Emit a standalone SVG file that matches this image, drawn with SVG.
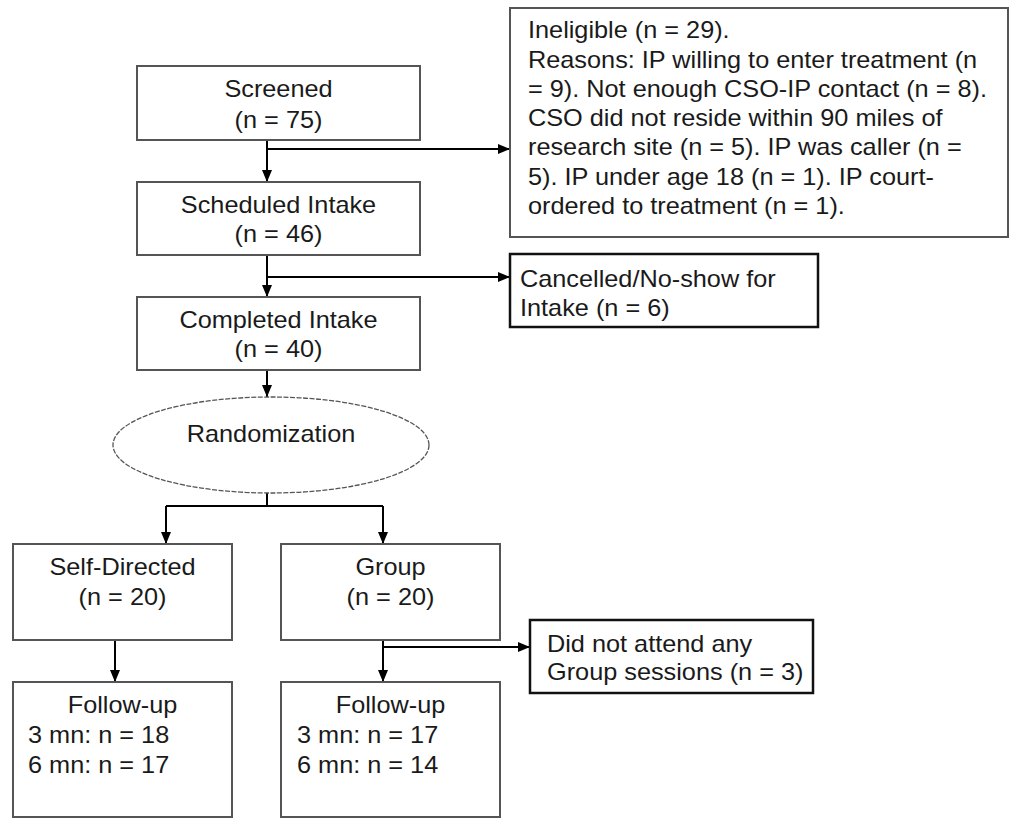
<svg xmlns="http://www.w3.org/2000/svg" width="1010" height="818" viewBox="0 0 1010 818">
<style>
.box{fill:#fff;stroke:#555;stroke-width:2}
.dark{fill:#fff;stroke:#111;stroke-width:2.5}
.ell{fill:#fff;stroke:#555;stroke-width:1.3;stroke-dasharray:5 1.5}
text{font-family:"Liberation Sans",Arial,sans-serif;font-size:23px;fill:#1a1a1a}
.c{text-anchor:middle}
.con{fill:none;stroke:#000;stroke-width:2}
</style>
<defs>
<marker id="ah" markerUnits="userSpaceOnUse" markerWidth="12" markerHeight="10" refX="12" refY="5" orient="auto">
<path d="M0,0 L12,5 L0,10 z" fill="#000"/>
</marker>
</defs>
<rect width="1010" height="818" fill="#fff"/>
<g id="connectors">
<path class="con" d="M267,140 V182" marker-end="url(#ah)"/>
<path class="con" d="M267,149 H510" marker-end="url(#ah)"/>
<path class="con" d="M267,255 V297" marker-end="url(#ah)"/>
<path class="con" d="M267,277 H510" marker-end="url(#ah)"/>
<path class="con" d="M267,370 V397" marker-end="url(#ah)"/>
<path class="con" d="M267,493 V506"/>
<path class="con" d="M166,506 H383"/>
<path class="con" d="M166,506 V544" marker-end="url(#ah)"/>
<path class="con" d="M383,506 V544" marker-end="url(#ah)"/>
<path class="con" d="M115,640 V682" marker-end="url(#ah)"/>
<path class="con" d="M383,640 V682" marker-end="url(#ah)"/>
<path class="con" d="M383,647 H530" marker-end="url(#ah)"/>
</g>
<g id="screened">
<rect class="box" x="137" y="66" width="283" height="74"/>
<text class="c" transform="translate(278.5,97) scale(1.1,1)">Screened</text>
<text class="c" transform="translate(278.5,128) scale(1.1,1)">(n = 75)</text>
</g>
<g id="scheduled">
<rect class="box" x="137" y="182" width="283" height="73"/>
<text class="c" transform="translate(278.5,213) scale(1.1,1)">Scheduled Intake</text>
<text class="c" transform="translate(278.5,242) scale(1.1,1)">(n = 46)</text>
</g>
<g id="completed">
<rect class="box" x="137" y="297" width="283" height="73"/>
<text class="c" transform="translate(278.5,328) scale(1.1,1)">Completed Intake</text>
<text class="c" transform="translate(278.5,357) scale(1.1,1)">(n = 40)</text>
</g>
<g id="ineligible">
<rect class="box" x="510" y="8" width="498" height="229"/>
<text transform="translate(528,38) scale(1.1,1)">Ineligible (n = 29).</text>
<text transform="translate(528,68) scale(1.1,1)">Reasons: IP willing to enter treatment (n</text>
<text transform="translate(528,97) scale(1.1,1)">= 9). Not enough CSO-IP contact (n = 8).</text>
<text transform="translate(528,126) scale(1.1,1)">CSO did not reside within 90 miles of</text>
<text transform="translate(528,155) scale(1.1,1)">research site (n = 5). IP was caller (n =</text>
<text transform="translate(528,185) scale(1.1,1)">5). IP under age 18 (n = 1). IP court-</text>
<text transform="translate(528,214) scale(1.1,1)">ordered to treatment (n = 1).</text>
</g>
<g id="cancelled">
<rect class="dark" x="510" y="254" width="308" height="73"/>
<text transform="translate(520,287) scale(1.1,1)">Cancelled/No-show for</text>
<text transform="translate(520,316) scale(1.1,1)">Intake (n = 6)</text>
</g>
<g id="randomization">
<ellipse class="ell" cx="271" cy="445" rx="158" ry="48"/>
<text class="c" transform="translate(271,442) scale(1.1,1)">Randomization</text>
</g>
<g id="selfdirected">
<rect class="box" x="13" y="544" width="219" height="96"/>
<text class="c" transform="translate(122.5,575) scale(1.1,1)">Self-Directed</text>
<text class="c" transform="translate(122.5,605) scale(1.1,1)">(n = 20)</text>
</g>
<g id="group">
<rect class="box" x="281" y="544" width="219" height="96"/>
<text class="c" transform="translate(390.5,575) scale(1.1,1)">Group</text>
<text class="c" transform="translate(390.5,605) scale(1.1,1)">(n = 20)</text>
</g>
<g id="notattend">
<rect class="dark" x="530" y="620" width="283" height="73"/>
<text transform="translate(547,652) scale(1.1,1)">Did not attend any</text>
<text transform="translate(547,680) scale(1.1,1)">Group sessions (n = 3)</text>
</g>
<g id="followup-self">
<rect class="box" x="13" y="682" width="219" height="135"/>
<text class="c" transform="translate(122.5,713) scale(1.1,1)">Follow-up</text>
<text transform="translate(28,743) scale(1.1,1)">3 mn: n = 18</text>
<text transform="translate(28,773) scale(1.1,1)">6 mn: n = 17</text>
</g>
<g id="followup-group">
<rect class="box" x="281" y="682" width="219" height="135"/>
<text class="c" transform="translate(390.5,713) scale(1.1,1)">Follow-up</text>
<text transform="translate(297,743) scale(1.1,1)">3 mn: n = 17</text>
<text transform="translate(297,773) scale(1.1,1)">6 mn: n = 14</text>
</g>
</svg>
